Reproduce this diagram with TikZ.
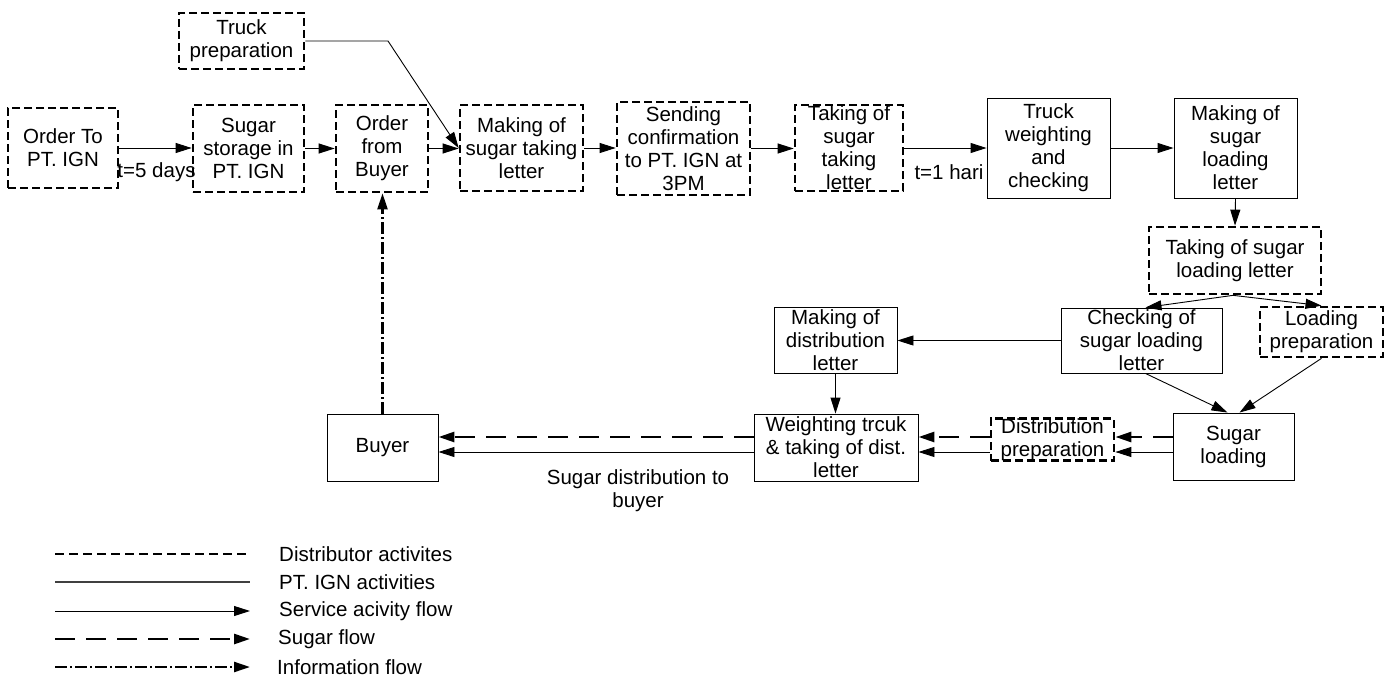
\documentclass[tikz,border=0pt]{standalone}
\usepackage{fontspec}
\setmainfont{Liberation Sans}
\usetikzlibrary{arrows.meta}
\newcommand{\fsz}{\fontsize{20.5pt}{23pt}\selectfont}
\tikzset{
  box/.style={inner sep=0pt, align=center, font=\fsz},
  solidbox/.style={box, draw, line width=0.9pt},
  dashbox/.style={box, draw, line width=2.7pt, dash pattern=on 8pt off 4pt},
  flow/.style={-{Triangle[length=16pt,width=10pt]}, line width=0.9pt},
  sugar/.style={-{Triangle[length=16pt,width=10pt]}, line width=2.7pt, dash pattern=on 20pt off 11pt},
  info/.style={-{Triangle[length=16pt,width=10pt]}, line width=2.4pt, dash pattern=on 12pt off 3pt on 2pt off 3pt},
  lbl/.style={inner sep=0pt, align=center, font=\fsz},
  distline/.style={line width=2.6pt, dash pattern=on 9pt off 5pt},
  ignline/.style={line width=1.2pt, draw=black!75},
}
\begin{document}
\begin{tikzpicture}[x=1pt,y=-1pt]
\useasboundingbox (0,0) rectangle (1394,677);

% boxes
\node[dashbox, minimum width=110pt, minimum height=80pt] (ordto) at (63,148) {Order To\\PT. IGN};
\node[dashbox, minimum width=111pt, minimum height=87pt] (storage) at (248.5,148.5) {Sugar\\storage in\\PT. IGN};
\node[dashbox, minimum width=92pt, minimum height=87pt] (ordbuy) at (382,148.5) {Order\\from\\Buyer};
\node[dashbox, minimum width=125pt, minimum height=56pt] (truck) at (241.5,41) {Truck\\preparation};
\node[dashbox, minimum width=123pt, minimum height=86pt] (making) at (521.5,148) {Making of\\sugar taking\\letter};
\node[dashbox, minimum width=133pt, minimum height=93pt] (sending) at (683.5,148.5) {Sending\\confirmation\\to PT. IGN at\\3PM};
\node[dashbox, minimum width=108pt, minimum height=86pt] (taking) at (849,148) {Taking of\\sugar\\taking\\letter};
\node[solidbox, minimum width=123pt, minimum height=100pt] (tweigh) at (1048.5,148) {Truck\\weighting\\and\\checking};
\node[solidbox, minimum width=123pt, minimum height=100pt] (mkload) at (1235.5,148) {Making of\\sugar\\loading\\letter};
\node[dashbox, minimum width=172pt, minimum height=67pt] (tkload) at (1235,260.5) {Taking of sugar\\loading letter};
\node[solidbox, minimum width=161pt, minimum height=65pt] (check) at (1141.5,340.5) {Checking of\\sugar loading\\letter};
\node[dashbox, minimum width=123pt, minimum height=50pt] (loadprep) at (1321.5,332) {Loading\\preparation};
\node[solidbox, minimum width=123pt, minimum height=66pt] (mkdist) at (835.5,340) {Making of\\distribution\\letter};
\node[solidbox, minimum width=164pt, minimum height=67pt] (weigh) at (836,447.5) {Weighting trcuk\\\& taking of dist.\\letter};
\node[dashbox, minimum width=123pt, minimum height=41pt] (distprep) at (1052.5,439.5) {Distribution\\preparation};
\node[solidbox, minimum width=121pt, minimum height=67pt] (sugload) at (1233.5,446.5) {Sugar\\loading};
\node[solidbox, minimum width=111pt, minimum height=67pt] (buyer) at (382.5,447.5) {Buyer};

% labels
\node[lbl] (t5) at (156.5,172) {t=5 days};
\node[lbl] (t1) at (949,172) {t=1 hari};
\node[lbl] (sdist) at (638,491) {Sugar distribution to\\buyer};

% helper coordinates
\coordinate (tbend) at (388,41);
\coordinate (sugarY) at (0,437);
\coordinate (servY) at (0,452);

% top row flows
\draw[flow] (ordto.east) -- (ordto.east -| storage.west);
\draw[flow] (storage.east) -- (storage.east -| ordbuy.west);
\draw[flow] (ordbuy.east) -- (ordbuy.east -| making.west);
\draw[flow] (truck.east) -- (tbend) -- (making.west);
\draw[flow] (making.east) -- (making.east -| sending.west);
\draw[flow] (sending.east) -- (sending.east -| taking.west);
\draw[flow] (taking.east) -- (taking.east -| tweigh.west);
\draw[flow] (tweigh.east) -- (tweigh.east -| mkload.west);
\draw[flow] (mkload.south) -- (tkload.north);
\draw[flow] ([xshift=-2pt]tkload.south) -- ([xshift=4pt]check.north);
\draw[flow] ([xshift=-2pt]tkload.south) -- (loadprep.north);
\draw[flow] (check.west) -- (check.west -| mkdist.east);
\draw[flow] (mkdist.south) -- (mkdist.south |- weigh.north);
\draw[flow] ([xshift=4pt]check.south) -- ([xshift=-6pt]sugload.north);
\draw[flow] (loadprep.south) -- ([xshift=6pt]sugload.north);

% bottom row flows
\draw[sugar] (sugload.west |- sugarY) -- (distprep.east |- sugarY);
\draw[flow] (sugload.west |- servY) -- (distprep.east |- servY);
\draw[sugar] (distprep.west |- sugarY) -- (weigh.east |- sugarY);
\draw[flow] (distprep.west |- servY) -- (weigh.east |- servY);
\draw[sugar] (weigh.west |- sugarY) -- (buyer.east |- sugarY);
\draw[flow] (weigh.west |- servY) -- (buyer.east |- servY);

% information flow
\draw[info] (buyer.north) -- (buyer.north |- ordbuy.south);

% legend
\coordinate (l1a) at (55,554); \coordinate (l1b) at (250,554);
\coordinate (l2a) at (55,582); \coordinate (l2b) at (250,582);
\coordinate (l3a) at (55,611); \coordinate (l3b) at (250,611);
\coordinate (l4a) at (55,639); \coordinate (l4b) at (250,639);
\coordinate (l5a) at (55,667); \coordinate (l5b) at (250,667);
\draw[distline] (l1a) -- (l1b);
\draw[ignline] (l2a) -- (l2b);
\draw[flow] (l3a) -- (l3b);
\draw[sugar] (l4a) -- (l4b);
\draw[info] (l5a) -- (l5b);
\node[lbl, anchor=west] (lt1) at (279,554) {Distributor activites};
\node[lbl, anchor=west] (lt2) at (279,582) {PT. IGN activities};
\node[lbl, anchor=west] (lt3) at (279,611) {Service acivity flow};
\node[lbl, anchor=west] (lt4) at (278,639) {Sugar flow};
\node[lbl, anchor=west] (lt5) at (277,667) {Information flow};
\end{tikzpicture}
\end{document}
